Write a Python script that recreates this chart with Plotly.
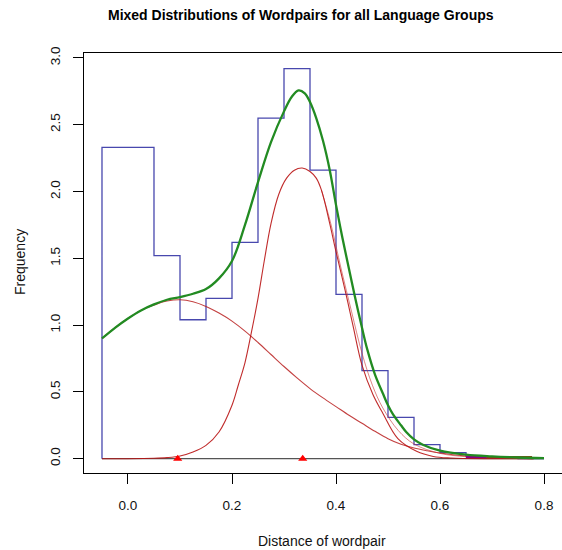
import plotly.graph_objects as go

# ---- data ----
bin_left = [-0.05, 0.0, 0.05, 0.10, 0.15, 0.20, 0.25, 0.30, 0.35, 0.40, 0.45, 0.50, 0.55, 0.60, 0.65, 0.70, 0.75]
bin_height = [2.33, 2.33, 1.52, 1.04, 1.20, 1.62, 2.55, 2.92, 2.16, 1.23, 0.66, 0.31, 0.105, 0.045, 0.015, 0.006, 0.0]
bin_end = 0.80

mix_x = [-0.05, -0.025, 0.0, 0.025, 0.05, 0.075, 0.10, 0.125, 0.15, 0.175, 0.20, 0.225, 0.25, 0.275,
         0.30, 0.315, 0.328, 0.34, 0.35, 0.362, 0.375, 0.388, 0.40, 0.412, 0.425, 0.436, 0.45, 0.46,
         0.475, 0.49, 0.50, 0.51, 0.525, 0.535, 0.55, 0.567, 0.60, 0.65, 0.70, 0.75, 0.80]
mix_y = [0.90, 0.98, 1.05, 1.11, 1.155, 1.19, 1.21, 1.235, 1.27, 1.35, 1.48, 1.75, 2.07, 2.37,
         2.60, 2.71, 2.757, 2.735, 2.67, 2.55, 2.38, 2.16, 1.90, 1.66, 1.42, 1.22, 0.98, 0.82,
         0.63, 0.49, 0.40, 0.33, 0.25, 0.20, 0.145, 0.105, 0.06, 0.03, 0.017, 0.009, 0.005]

broad_x = [-0.05, -0.025, 0.0, 0.025, 0.05, 0.075, 0.10, 0.125, 0.15, 0.175, 0.20, 0.225, 0.25, 0.275,
           0.30, 0.325, 0.35, 0.375, 0.40, 0.425, 0.45, 0.475, 0.50, 0.525, 0.55, 0.575, 0.60, 0.65,
           0.70, 0.75, 0.78]
broad_y = [0.90, 0.98, 1.05, 1.11, 1.15, 1.18, 1.19, 1.175, 1.14, 1.09, 1.03, 0.955, 0.87, 0.78,
           0.69, 0.605, 0.525, 0.455, 0.39, 0.325, 0.265, 0.205, 0.15, 0.108, 0.08, 0.06, 0.043, 0.02,
           0.008, 0.003, 0.0]

peak_x = [-0.05, 0.0, 0.05, 0.075, 0.10, 0.125, 0.15, 0.175, 0.20, 0.212, 0.225, 0.237, 0.25, 0.262,
          0.275, 0.29, 0.305, 0.32, 0.335, 0.35, 0.362, 0.372, 0.388, 0.40, 0.417, 0.433, 0.45,
          0.471, 0.49, 0.519, 0.555, 0.587, 0.62, 0.70, 0.78]
peak_y = [0.0, 0.0, 0.003, 0.008, 0.02, 0.05, 0.10, 0.20, 0.40, 0.55, 0.72, 0.94, 1.20, 1.48,
          1.76, 1.98, 2.10, 2.16, 2.176, 2.15, 2.10, 2.01, 1.76, 1.55, 1.27, 0.99, 0.70,
          0.48, 0.34, 0.15, 0.055, 0.017, 0.005, 0.0, 0.0]

peak2_x = [0.372, 0.39, 0.41, 0.43, 0.45, 0.47, 0.49, 0.52, 0.55, 0.60, 0.65, 0.70, 0.777]
peak2_y = [2.01, 1.76, 1.42, 1.10, 0.79, 0.55, 0.38, 0.21, 0.11, 0.04, 0.015, 0.005, 0.0]

zero_x = [-0.05, 0.80]
zero_y = [0.0, 0.0]

purple_x = [0.65, 0.69]
purple_y = [0.012, 0.012]
brown_x = [0.69, 0.777]
brown_y = [0.012, 0.012]

mean_x = [0.0956, 0.336]
mean_y = [0.0, 0.0]

x_ticks = [0.0, 0.2, 0.4, 0.6, 0.8]
x_ticktext = ["0.0", "0.2", "0.4", "0.6", "0.8"]
y_ticks = [0.0, 0.5, 1.0, 1.5, 2.0, 2.5, 3.0]
y_ticktext = ["0.0", "0.5", "1.0", "1.5", "2.0", "2.5", "3.0"]

# ---- build histogram step outline ----
hist_x = [bin_left[0]] + bin_left + [bin_end]
hist_y = [0.0] + bin_height + [bin_height[-1]]

FONT = "Liberation Sans"
fig = go.Figure()

fig.add_trace(go.Scatter(x=zero_x, y=zero_y, mode="lines",
                         line=dict(color="#555555", width=1.2), hoverinfo="skip"))
fig.add_trace(go.Scatter(x=hist_x, y=hist_y, mode="lines", line_shape="hv",
                         line=dict(color="rgba(40,40,160,0.85)", width=1.3), hoverinfo="skip"))
fig.add_trace(go.Scatter(x=broad_x, y=broad_y, mode="lines", line_shape="spline",
                         line=dict(color="rgba(185,30,30,0.85)", width=1.1), hoverinfo="skip"))
fig.add_trace(go.Scatter(x=peak2_x, y=peak2_y, mode="lines", line_shape="spline",
                         line=dict(color="rgba(200,50,50,0.6)", width=1.0), hoverinfo="skip"))
fig.add_trace(go.Scatter(x=peak_x, y=peak_y, mode="lines", line_shape="spline",
                         line=dict(color="rgba(185,20,20,0.9)", width=1.1), hoverinfo="skip"))
fig.add_trace(go.Scatter(x=purple_x, y=purple_y, mode="lines",
                         line=dict(color="#880088", width=2), hoverinfo="skip"))
fig.add_trace(go.Scatter(x=brown_x, y=brown_y, mode="lines",
                         line=dict(color="#8B4513", width=2), hoverinfo="skip"))
fig.add_trace(go.Scatter(x=mix_x, y=mix_y, mode="lines", line_shape="spline",
                         line=dict(color="#228B22", width=2.3), hoverinfo="skip"))
fig.add_trace(go.Scatter(x=mean_x, y=mean_y, mode="markers",
                         marker=dict(symbol="triangle-up", size=8, color="#ff0000"),
                         hoverinfo="skip"))

L, R, T, B = 84, 0, 53, 77
W, H = 562, 550
pw, ph = W - L - R, H - T - B

def px_to_paper_x(px):
    return (px - L) / pw

def px_to_paper_y(py):
    return (H - B - py) / ph

fig.update_layout(
    width=W, height=H,
    margin=dict(l=L, r=R, t=T, b=B, pad=0),
    paper_bgcolor="white", plot_bgcolor="white",
    showlegend=False,
    font=dict(family=FONT, size=13, color="black"),
    xaxis=dict(range=[-0.0846, 0.8346], tickvals=x_ticks, ticktext=x_ticktext,
               ticks="outside", ticklen=10, tickwidth=1, tickcolor="black",
               showline=True, linecolor="black", linewidth=1, mirror=True,
               showgrid=False, zeroline=False, ticklabelstandoff=10,
               tickfont=dict(family=FONT, size=13.5, color="#111")),
    yaxis=dict(range=[-0.107, 3.037], tickvals=y_ticks, ticktext=y_ticktext,
               ticks="outside", ticklen=10, tickwidth=1, tickcolor="black",
               showline=True, linecolor="black", linewidth=1, mirror=True,
               showgrid=False, zeroline=False, tickangle=-90, ticklabelstandoff=8,
               tickfont=dict(family=FONT, size=13.5, color="#111")),
    annotations=[
        dict(text="<b>Mixed Distributions of Wordpairs for all Language Groups</b>",
             xref="paper", yref="paper", x=px_to_paper_x(301), y=px_to_paper_y(15),
             xanchor="center", yanchor="middle", showarrow=False,
             font=dict(family=FONT, size=14, color="black")),
        dict(text="Distance of wordpair", xref="paper", yref="paper",
             x=px_to_paper_x(322), y=px_to_paper_y(541), xanchor="center", yanchor="middle",
             showarrow=False, font=dict(family=FONT, size=14, color="#111")),
        dict(text="Frequency", xref="paper", yref="paper",
             x=px_to_paper_x(20), y=px_to_paper_y(262), xanchor="center", yanchor="middle",
             textangle=-90, showarrow=False, font=dict(family=FONT, size=14, color="#111")),
    ],
)

fig.write_html("out.html")
